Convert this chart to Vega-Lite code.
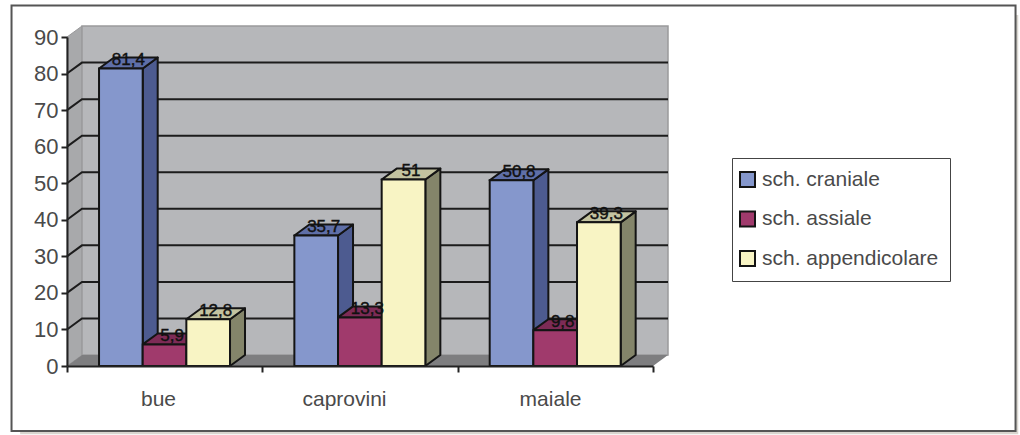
{
  "$schema": "https://vega.github.io/schema/vega-lite/v6.json",
  "width": 1020,
  "height": 435,
  "padding": 0,
  "autosize": {"type": "none"},
  "background": "#ffffff",
  "config": {"view": {"stroke": null}},
  "params": [
    {"name": "dx", "value": 0.0768},
    {"name": "dy", "value": 3},
    {"name": "bw", "value": 0.2235},
    {"name": "gap", "value": 0.164}
  ],
  "data": {
    "values": [
      {"categoria": "bue", "serie": "sch. craniale", "valore": 81.4},
      {"categoria": "bue", "serie": "sch. assiale", "valore": 5.9},
      {"categoria": "bue", "serie": "sch. appendicolare", "valore": 12.8},
      {"categoria": "caprovini", "serie": "sch. craniale", "valore": 35.7},
      {"categoria": "caprovini", "serie": "sch. assiale", "valore": 13.3},
      {"categoria": "caprovini", "serie": "sch. appendicolare", "valore": 51},
      {"categoria": "maiale", "serie": "sch. craniale", "valore": 50.8},
      {"categoria": "maiale", "serie": "sch. assiale", "valore": 9.8},
      {"categoria": "maiale", "serie": "sch. appendicolare", "valore": 39.3}
    ]
  },
  "transform": [
    {"calculate": "indexof(['bue','caprovini','maiale'], datum.categoria)", "as": "ci"},
    {"calculate": "indexof(['sch. craniale','sch. assiale','sch. appendicolare'], datum.serie)", "as": "si"},
    {"calculate": "datum.ci + gap + datum.si * bw", "as": "x0"},
    {"calculate": "datum.x0 + bw", "as": "x1"},
    {"calculate": "datum.categoria + datum.serie", "as": "barra"},
    {"calculate": "replace(toString(datum.valore), '.', ',')", "as": "etichetta"}
  ],
  "layer": [
    {
      "description": "Drop shadow behind the panel",
      "data": {"values": [{"a": -0.24, "b": 4.87, "c": -18.7, "d": 96}]},
      "mark": {"type": "rect", "fill": "#d9d6cf"},
      "encoding": {
        "x": {"field": "a", "type": "quantitative", "scale": {"domain": [0, 3], "range": [67, 653], "nice": false, "zero": false},
          "axis": {"orient": "bottom", "offset": -69, "values": [0, 0.466, 1, 1.418, 2, 2.473, 3],
            "labelExpr": "datum.value == 0.466 ? 'bue' : datum.value == 1.418 ? 'caprovini' : datum.value == 2.473 ? 'maiale' : ''",
            "tickOpacity": {"expr": "datum.value % 1 == 0 ? 1 : 0"},
            "title": null, "grid": false, "zindex": 1, "domainColor": "#222222", "domainWidth": 2, "tickColor": "#222222", "tickWidth": 2, "tickSize": 6,
            "labelFont": "Liberation Sans", "labelFontSize": 21, "labelColor": "#4a4a4a", "labelPadding": 16, "labelOverlap": false}},
        "x2": {"field": "b"},
        "y": {"field": "c", "type": "quantitative", "scale": {"domain": [0, 90], "range": [366, 37], "nice": false, "zero": false},
          "axis": {"orient": "left", "offset": -67, "values": [0, 10, 20, 30, 40, 50, 60, 70, 80, 90],
            "title": null, "grid": false, "zindex": 1, "domainColor": "#222222", "domainWidth": 2, "tickColor": "#222222", "tickWidth": 2, "tickSize": 6,
            "labelFont": "Liberation Sans", "labelFontSize": 22, "labelColor": "#4a4a4a", "labelPadding": 3, "labelOverlap": false}},
        "y2": {"field": "d"}
      }
    },
    {
      "description": "White panel with its dark border",
      "data": {"values": [{"a": -0.284, "b": 4.856, "c": -17.8, "d": 98.6}]},
      "mark": {"type": "rect", "fill": "#ffffff", "stroke": "#555555", "strokeWidth": 2},
      "encoding": {
        "x": {"field": "a", "type": "quantitative"}, "x2": {"field": "b"},
        "y": {"field": "c", "type": "quantitative"}, "y2": {"field": "d"}
      }
    },
    {
      "description": "Side wall",
      "data": {"values": [{"t": 0}, {"t": 1}]},
      "transform": [
        {"calculate": "datum.t * dx", "as": "px"},
        {"calculate": "datum.t * dy", "as": "lo"},
        {"calculate": "90 + datum.t * dy", "as": "hi"}
      ],
      "mark": {"type": "area", "fill": "#a8a9ab", "stroke": "#9a9a9c", "strokeWidth": 1, "orient": "vertical"},
      "encoding": {
        "x": {"field": "px", "type": "quantitative"},
        "y": {"field": "lo", "type": "quantitative", "stack": null},
        "y2": {"field": "hi"}
      }
    },
    {
      "description": "Back wall",
      "data": {"values": [{"lato": 0}]},
      "transform": [
        {"calculate": "dx", "as": "a"},
        {"calculate": "3 + dx", "as": "b"},
        {"calculate": "dy", "as": "c"},
        {"calculate": "90 + dy", "as": "d"}
      ],
      "mark": {"type": "rect", "fill": "#b6b7ba", "stroke": "#9a9a9c", "strokeWidth": 1.5},
      "encoding": {
        "x": {"field": "a", "type": "quantitative"}, "x2": {"field": "b"},
        "y": {"field": "c", "type": "quantitative"}, "y2": {"field": "d"}
      }
    },
    {
      "description": "Floor",
      "data": {"values": [{"t": 0}, {"t": 1}, {"t": 2}, {"t": 3}]},
      "transform": [
        {"calculate": "[0, dx, 3, 3 + dx][datum.t]", "as": "px"},
        {"calculate": "[0, 0, 0, dy][datum.t]", "as": "lo"},
        {"calculate": "[0, dy, dy, dy][datum.t]", "as": "hi"}
      ],
      "mark": {"type": "area", "fill": "#7e7e80", "orient": "vertical"},
      "encoding": {
        "x": {"field": "px", "type": "quantitative"},
        "y": {"field": "lo", "type": "quantitative", "stack": null},
        "y2": {"field": "hi"}
      }
    },
    {
      "description": "Grid lines running across the side wall and the back wall",
      "data": {"values": [{"v": 10}, {"v": 20}, {"v": 30}, {"v": 40}, {"v": 50}, {"v": 60}, {"v": 70}, {"v": 80}]},
      "transform": [
        {"calculate": "[0, 1, 2]", "as": "t"},
        {"flatten": ["t"]},
        {"calculate": "[0, dx, 3 + dx][datum.t]", "as": "px"},
        {"calculate": "datum.t == 0 ? datum.v : datum.v + dy", "as": "py"}
      ],
      "mark": {"type": "line", "stroke": "#1c1c1c", "strokeWidth": 2},
      "encoding": {
        "x": {"field": "px", "type": "quantitative"},
        "y": {"field": "py", "type": "quantitative"},
        "detail": {"field": "v", "type": "nominal"}
      }
    },
    {
      "description": "Side faces of the bars",
      "transform": [
        {"calculate": "[0, 1]", "as": "t"},
        {"flatten": ["t"]},
        {"calculate": "datum.x1 + datum.t * dx", "as": "px"},
        {"calculate": "datum.t * dy", "as": "lo"},
        {"calculate": "datum.valore + datum.t * dy", "as": "hi"},
        {"calculate": "['#4d5b90', '#6a2449', '#84856a'][datum.si]", "as": "tinta"}
      ],
      "mark": {"type": "area", "stroke": "#141414", "strokeWidth": 2, "strokeJoin": "round", "orient": "vertical"},
      "encoding": {
        "x": {"field": "px", "type": "quantitative"},
        "y": {"field": "lo", "type": "quantitative", "stack": null},
        "y2": {"field": "hi"},
        "detail": {"field": "barra", "type": "nominal"},
        "fill": {"field": "tinta", "type": "nominal", "scale": null}
      }
    },
    {
      "description": "Top faces of the bars",
      "transform": [
        {"calculate": "[0, 1, 2, 3]", "as": "t"},
        {"flatten": ["t"]},
        {"calculate": "[datum.x0, datum.x0 + dx, datum.x1, datum.x1 + dx][datum.t]", "as": "px"},
        {"calculate": "datum.valore + (datum.t == 3 ? dy : 0)", "as": "lo"},
        {"calculate": "datum.valore + (datum.t == 0 ? 0 : dy)", "as": "hi"},
        {"calculate": "['#5f6fa8', '#7d2b56', '#c3c3a0'][datum.si]", "as": "tinta"}
      ],
      "mark": {"type": "area", "stroke": "#141414", "strokeWidth": 2, "strokeJoin": "round", "orient": "vertical"},
      "encoding": {
        "x": {"field": "px", "type": "quantitative"},
        "y": {"field": "lo", "type": "quantitative", "stack": null},
        "y2": {"field": "hi"},
        "detail": {"field": "barra", "type": "nominal"},
        "fill": {"field": "tinta", "type": "nominal", "scale": null}
      }
    },
    {
      "description": "Front faces of the bars, which also carry the legend",
      "transform": [{"calculate": "0", "as": "base"}],
      "mark": {"type": "rect", "stroke": "#141414", "strokeWidth": 2},
      "encoding": {
        "x": {"field": "x0", "type": "quantitative"},
        "x2": {"field": "x1"},
        "y": {"field": "base", "type": "quantitative"},
        "y2": {"field": "valore"},
        "color": {"field": "serie", "type": "nominal",
          "scale": {"domain": ["sch. craniale", "sch. assiale", "sch. appendicolare"], "range": ["#8597cc", "#a03a6c", "#f8f4c4"]},
          "legend": {"orient": "none", "legendX": 732, "legendY": 158, "title": null,
            "fillColor": "#ffffff", "strokeColor": "#444444", "padding": 11,
            "symbolType": "square", "symbolSize": 225, "symbolOffset": -6, "symbolStrokeColor": "#141414", "symbolStrokeWidth": 2, "symbolOpacity": 1,
            "labelFont": "Liberation Sans", "labelFontSize": 21, "labelColor": "#4a4a4a", "labelOffset": 4, "labelLimit": 400, "rowPadding": 16.5,
            "labelExpr": "datum.label + '\u00a0\u00a0\u00a0'"}}
      }
    },
    {
      "description": "Value labels sitting on the top faces",
      "mark": {"type": "text", "font": "Liberation Sans", "fontSize": 17, "fill": "#111111", "stroke": "#111111", "strokeWidth": 0.4, "align": "center", "baseline": "middle"},
      "transform": [
        {"calculate": "datum.x0 + (bw + dx) / 2", "as": "px"},
        {"calculate": "datum.valore + dy * 0.75", "as": "py"}
      ],
      "encoding": {
        "x": {"field": "px", "type": "quantitative"},
        "y": {"field": "py", "type": "quantitative"},
        "text": {"field": "etichetta", "type": "nominal"}
      }
    }
  ]
}
